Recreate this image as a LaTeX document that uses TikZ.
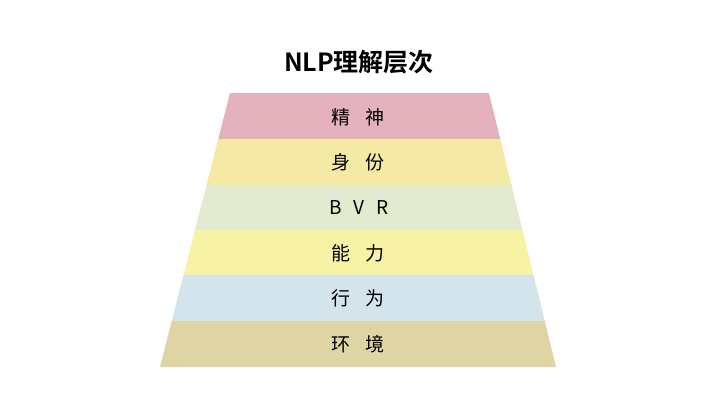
\documentclass[tikz,border=0pt]{standalone}
\usepackage{fontspec}
\newfontfamily\cjk{Noto Sans CJK SC}[BoldFont={* Bold}]
\definecolor{bpink}{RGB}{228,178,188}
\definecolor{byel}{RGB}{244,234,166}
\definecolor{bgreen}{RGB}{226,234,208}
\definecolor{byel2}{RGB}{248,242,164}
\definecolor{bblue}{RGB}{212,228,236}
\definecolor{bkhaki}{RGB}{222,212,164}
\tikzset{
  lbl/.style={font=\cjk\fontsize{19}{19}\selectfont, text=black, inner sep=0pt},
  ttl/.style={font=\cjk\bfseries\fontsize{25}{25}\selectfont, text=black, inner sep=0pt}
}
\begin{document}
\begin{tikzpicture}[x=1pt,y=-1pt]
\useasboundingbox (0,0) rectangle (720,402);
\fill[white] (0,0) rectangle (720,402);
\newcommand{\band}[3]{%
  \pgfmathsetmacro{\lA}{230-0.2555*(#1-93)}%
  \pgfmathsetmacro{\lB}{230-0.2555*(#2-93)}%
  \pgfmathsetmacro{\rA}{489+0.2445*(#1-93)}%
  \pgfmathsetmacro{\rB}{489+0.2445*(#2-93)}%
  \fill[#3] (\lA,#1) -- (\rA,#1) -- (\rB,#2) -- (\lB,#2) -- cycle;}
\band{93}{139.5}{bpink}
\band{139}{185.5}{byel}
\band{185}{230.5}{bgreen}
\band{230}{275.5}{byel2}
\band{275}{321.5}{bblue}
\band{321}{367}{bkhaki}
\node[ttl] (title) at (359,62) {NLP理解层次};
\node[lbl] (l1) at (358,117) {精\hspace{0.8em}神};
\node[lbl] (l2) at (358,162) {身\hspace{0.8em}份};
\node[lbl] (l3) at (359,208) {B\hspace{0.6em}V\hspace{0.6em}R};
\node[lbl] (l4) at (358,253) {能\hspace{0.8em}力};
\node[lbl] (l5) at (358,298) {行\hspace{0.8em}为};
\node[lbl] (l6) at (358,344) {环\hspace{0.8em}境};
\end{tikzpicture}
\end{document}
